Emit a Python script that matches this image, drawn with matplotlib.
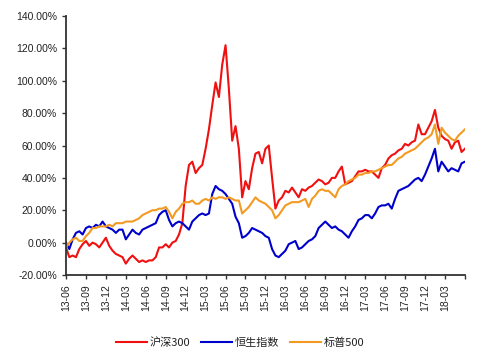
import numpy as np
import matplotlib
matplotlib.use("Agg")
import matplotlib.pyplot as plt
from matplotlib.ticker import FuncFormatter

plt.rcParams['font.family'] = ['Liberation Sans', 'Noto Sans CJK SC', 'DejaVu Sans']

# months since 2013-06, half-month steps
months = np.arange(0, 60.5, 0.5)

tick_labels = ["13-06", "13-09", "13-12", "14-03", "14-06", "14-09", "14-12",
               "15-03", "15-06", "15-09", "15-12", "16-03", "16-06", "16-09",
               "16-12", "17-03", "17-06", "17-09", "17-12", "18-03"]

hs300 = [-3, -9, -8, -9, -4, -1, 1, -2, 0, -1, -3, 0, 3, -2, -5, -7, -8, -9, -13, -10,
         -8, -10, -12, -11, -12, -11, -11, -9, -3, -3, -1, -3, 0, 1, 5, 12, 35, 48, 50, 43,
         46, 48, 58, 70, 85, 99, 90, 110, 122, 95, 63, 72, 58, 28, 38, 33, 46, 55, 56, 49,
         58, 60, 40, 21, 26, 28, 32, 31, 34, 31, 28, 33, 32, 34, 35, 37, 39, 38, 36, 37,
         40, 40, 44, 47, 36, 37, 38, 41, 44, 44, 45, 44, 44, 42, 40, 46, 48, 52, 54, 55,
         57, 58, 61, 60, 62, 63, 73, 67, 67, 71, 75, 82, 71, 66, 64, 63, 58, 62, 63, 56,
         58]

hsi = [0, -4, 2, 6, 7, 5, 9, 10, 9, 11, 10, 13, 10, 9, 8, 6, 8, 8, 2, 5,
       8, 6, 5, 8, 9, 10, 11, 12, 17, 19, 20, 14, 10, 12, 13, 12, 10, 8, 13, 15,
       17, 18, 17, 18, 30, 35, 33, 32, 30, 27, 24, 16, 12, 3, 4, 6, 9, 8, 7, 6,
       4, 3, -4, -8, -9, -7, -5, -1, 0, 1, -4, -3, -1, 1, 2, 4, 9, 11, 13, 11,
       9, 10, 8, 7, 5, 3, 7, 10, 14, 15, 17, 17, 15, 18, 22, 23, 23, 24, 21, 27,
       32, 33, 34, 35, 37, 39, 40, 38, 42, 47, 52, 58, 44, 50, 47, 44, 46, 45, 44, 49,
       50]

sp500 = [-3, 0, 2, 3, 1, 1, 4, 6, 9, 9, 10, 10, 10, 11, 10, 12, 12, 12, 13, 13,
         13, 14, 15, 17, 18, 19, 20, 20, 21, 21, 22, 19, 15, 19, 21, 24, 25, 25, 26, 24,
         24, 26, 27, 26, 28, 27, 28, 28, 27, 28, 27, 26, 26, 18, 20, 22, 25, 28, 26, 25,
         24, 22, 20, 15, 17, 20, 23, 24, 25, 25, 25, 26, 27, 22, 27, 29, 32, 33, 32, 32,
         30, 28, 33, 35, 36, 38, 39, 40, 42, 42, 43, 43, 44, 44, 45, 46, 47, 48, 48, 50,
         52, 53, 55, 56, 57, 58, 60, 62, 64, 65, 67, 73, 61, 71, 68, 66, 64, 63, 66, 68,
         70]

series_names = ["沪深300", "恒生指数", "标普500"]
colors = ["#F01010", "#0000CC", "#F39A22"]

fig = plt.figure(figsize=(4.8, 3.58), dpi=100)
ax = fig.add_axes([0.1375, 0.232, 0.831, 0.723])

for vals, name, c in zip([hs300, hsi, sp500], series_names, colors):
    ax.plot(months, vals, color=c, lw=1.5, label=name, solid_joinstyle='round')

ax.set_xlim(0, 60)
ax.set_ylim(-20, 140)
ax.set_yticks(np.arange(-20, 141, 20))
ax.yaxis.set_major_formatter(FuncFormatter(lambda v, p: f"{v:.2f}%"))
ax.set_xticks(np.arange(0, 61, 3))
ax.set_xticklabels(tick_labels + [""], rotation=90)

for side in ["top", "right"]:
    ax.spines[side].set_visible(False)
for side in ["left", "bottom"]:
    ax.spines[side].set_color("#333333")
    ax.spines[side].set_linewidth(1.3)
ax.tick_params(axis='both', colors="#333333", labelcolor="#222222", labelsize=7.5,
               length=3, width=1.0, direction='out')

leg = fig.legend(loc='lower center', bbox_to_anchor=(0.5, 0.0), ncol=3, frameon=False,
                 prop={'family': ['Noto Sans CJK SC', 'DejaVu Sans'], 'size': 8},
                 handlelength=2.8, columnspacing=1.0, handletextpad=0.2)
for t in leg.get_texts():
    t.set_color("#222222")

fig.savefig("out.png", dpi=100)
